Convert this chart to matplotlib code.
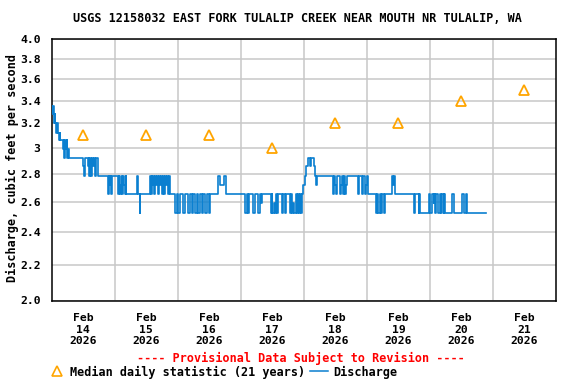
import datetime as dt
import matplotlib
matplotlib.use("Agg")
import matplotlib.pyplot as plt
import matplotlib.dates as mdates
from matplotlib.lines import Line2D
from matplotlib.ticker import FixedLocator, NullLocator, NullFormatter

# ---------------- data ----------------
title = "USGS 12158032 EAST FORK TULALIP CREEK NEAR MOUTH NR TULALIP, WA"
ylabel = "Discharge, cubic feet per second"
start_date = dt.datetime(2026, 2, 14)

# median daily statistic (21 years), one per day at noon
median_days = [14, 15, 16, 17, 18, 19, 20, 21]
median_values = [3.1, 3.1, 3.1, 3.0, 3.2, 3.2, 3.4, 3.5]

# discharge, step changes: hours since Feb 14 00:00 and new value (cfs)
q_hours = [
    0.0, 0.3, 0.5, 0.7, 0.95, 1.15, 1.3, 1.8, 2.1, 2.3, 2.8, 3.2, 3.35, 4.3, 4.6,
    4.7, 4.95, 5.2, 5.45, 5.7, 5.95, 6.2, 6.5, 12.0, 12.3, 12.55, 13.8, 14.1, 14.3,
    14.6, 14.85, 15.1, 15.35, 15.75, 16.0, 16.5, 16.75, 17.75, 21.45, 21.7, 22.1,
    22.3, 22.7, 23.0, 25.25, 25.5, 25.75, 26.0, 26.4, 26.8, 27.15, 27.55, 27.8,
    28.2, 28.4, 32.5, 33.0, 33.5, 33.75, 37.45, 37.7, 38.1, 38.35, 38.6, 39.0,
    39.35, 39.75, 40.1, 40.5, 40.9, 41.25, 41.65, 42.0, 42.4, 42.8, 43.15, 43.55,
    43.9, 44.3, 44.7, 45.05, 47.0, 47.6, 48.2, 48.9, 50.1, 50.8, 52.0, 52.5, 52.7,
    53.3, 53.9, 54.6, 55.2, 55.8, 56.5, 57.1, 57.5, 58.4, 59.0, 59.7, 60.1, 63.4,
    64.0, 65.6, 66.4, 73.6, 74.3, 74.9, 75.2, 76.8, 77.4, 78.7, 79.3, 79.7, 80.1,
    83.4, 83.8, 84.0, 84.6, 84.9, 85.4, 85.7, 86.3, 87.6, 88.0, 88.9, 89.3, 90.8,
    91.2, 91.6, 92.0, 92.4, 92.9, 93.3, 93.8, 94.2, 94.7, 95.0, 95.4, 95.8, 96.4,
    97.0, 97.4, 98.4, 98.7, 99.9, 100.3, 100.7, 101.1, 107.2, 107.6, 107.9, 108.3,
    108.7, 109.9, 110.3, 110.6, 110.9, 111.3, 111.6, 112.0, 112.4, 116.7, 117.1,
    118.0, 118.4, 119.3, 119.7, 120.1, 120.6, 123.5, 123.9, 124.3, 125.0, 125.4,
    125.8, 126.4, 126.8, 129.6, 129.9, 130.2, 130.6, 137.8, 138.4, 139.7, 140.0,
    140.4, 143.5, 144.1, 144.8, 145.4, 145.6, 146.0, 146.3, 146.9, 147.9, 148.3,
    148.6, 149.2, 149.5, 149.8, 152.4, 153.0, 156.2, 156.8, 157.9, 158.3, 165.5,
]
q_values = [
    3.35, 3.28, 3.35, 3.28, 3.20, 3.28, 3.20, 3.12, 3.20, 3.12, 3.06, 3.12, 3.06, 2.99, 3.06,
    2.92, 2.99, 3.06, 2.99, 3.06, 2.92, 2.99, 2.92, 2.86, 2.78, 2.92, 2.86, 2.92, 2.78,
    2.92, 2.86, 2.78, 2.92, 2.86, 2.92, 2.78, 2.92, 2.78, 2.65, 2.78, 2.72,
    2.78, 2.65, 2.78, 2.65, 2.78, 2.72, 2.65, 2.78, 2.65, 2.78, 2.72, 2.65,
    2.78, 2.65, 2.78, 2.65, 2.52, 2.65, 2.78, 2.65, 2.78, 2.72, 2.78, 2.65,
    2.78, 2.72, 2.78, 2.65, 2.78, 2.72, 2.78, 2.65, 2.78, 2.65, 2.78, 2.72,
    2.78, 2.65, 2.78, 2.65, 2.52, 2.65, 2.52, 2.65, 2.52, 2.65, 2.52, 2.59, 2.65,
    2.52, 2.65, 2.52, 2.65, 2.52, 2.65, 2.52, 2.65, 2.52, 2.65, 2.52, 2.65, 2.78,
    2.72, 2.78, 2.65, 2.52, 2.65, 2.52, 2.65, 2.52, 2.65, 2.52, 2.65, 2.59, 2.65,
    2.52, 2.65, 2.52, 2.59, 2.52, 2.65, 2.52, 2.65, 2.52, 2.65, 2.52, 2.65, 2.52,
    2.65, 2.52, 2.59, 2.52, 2.65, 2.52, 2.65, 2.52, 2.65, 2.52, 2.65, 2.72, 2.78,
    2.86, 2.92, 2.86, 2.92, 2.86, 2.78, 2.72, 2.78, 2.65, 2.78, 2.72, 2.65,
    2.78, 2.65, 2.72, 2.78, 2.65, 2.78, 2.65, 2.72, 2.78, 2.65, 2.78,
    2.65, 2.78, 2.65, 2.72, 2.78, 2.65, 2.52, 2.65, 2.52, 2.65, 2.52,
    2.65, 2.52, 2.65, 2.78, 2.72, 2.78, 2.65, 2.52, 2.65, 2.52, 2.65,
    2.52, 2.65, 2.52, 2.65, 2.59, 2.65, 2.52, 2.65, 2.52, 2.65, 2.52,
    2.65, 2.52, 2.65, 2.52, 2.65, 2.52, 2.65, 2.52, 2.65, 2.52, 2.52,
]

y_ticks = [2.0, 2.2, 2.4, 2.6, 2.8, 3.0, 3.2, 3.4, 3.6, 3.8, 4.0]
y_tick_labels = ["2.0", "2.2", "2.4", "2.6", "2.8", "3", "3.2", "3.4", "3.6", "3.8", "4.0"]
x_tick_days = [14, 15, 16, 17, 18, 19, 20, 21]
x_tick_labels = ["Feb\n%d\n2026" % d for d in x_tick_days]

# ---------------- style ----------------
FONT = "DejaVu Sans Mono"
plt.rcParams["font.family"] = [FONT, "DejaVu Sans"]
plt.rcParams["font.weight"] = "bold"
line_color = "#0a7fd0"
tri_color = "#FFA500"
grid_color = "#c8c8c8"

fig = plt.figure(figsize=(5.76, 3.84), dpi=100)
ax = fig.add_axes([51.7 / 576, 1 - 300.5 / 384, (556 - 51.7) / 576, (300.5 - 39.3) / 384])

q_times = [start_date + dt.timedelta(hours=h) for h in q_hours]
ax.step(q_times, q_values, where="post", color=line_color, lw=1.2, zorder=3)

m_times = [dt.datetime(2026, 2, d, 12) for d in median_days]
ax.plot(m_times, median_values, linestyle="none", marker="^", markersize=7.5,
        markerfacecolor="none", markeredgecolor=tri_color, markeredgewidth=1.3, zorder=4)

ax.set_yscale("log")
ax.set_ylim(2.0, 4.0)
ax.yaxis.set_major_locator(FixedLocator(y_ticks))
ax.set_yticklabels(y_tick_labels)
ax.yaxis.set_minor_locator(NullLocator())
ax.yaxis.set_minor_formatter(NullFormatter())

ax.set_xlim(start_date, dt.datetime(2026, 2, 22))
ax.set_xticks([mdates.date2num(dt.datetime(2026, 2, d, 12)) for d in x_tick_days])
ax.set_xticklabels(x_tick_labels)
ax.set_xticks([mdates.date2num(dt.datetime(2026, 2, d)) for d in range(15, 22)], minor=True)

ax.grid(False)
ax.grid(True, which="minor", axis="x", color=grid_color, lw=1.1)
ax.grid(True, which="major", axis="y", color=grid_color, lw=1.1)
ax.set_axisbelow(True)

ax.tick_params(axis="both", which="both", length=0)
ax.tick_params(axis="y", pad=8, labelsize=8.2)
ax.tick_params(axis="x", pad=9, labelsize=8.2)
for lab in ax.get_xticklabels() + ax.get_yticklabels():
    lab.set_fontweight("bold")
for sp in ax.spines.values():
    sp.set_linewidth(1.1)
    sp.set_color("black")

fig.text(297 / 576, 1 - 19 / 384, title, ha="center", va="center", fontsize=8.5, fontweight="bold")
fig.text(12 / 576, 1 - 168 / 384, ylabel, ha="center", va="center", rotation=90,
         fontsize=8.5, fontweight="bold")
fig.text(301 / 576, 1 - 358 / 384, "---- Provisional Data Subject to Revision ----",
         ha="center", va="center", fontsize=8.5, fontweight="bold", color="red")

fig.add_artist(Line2D([57 / 576], [1 - 371 / 384], transform=fig.transFigure, marker="^",
                      markersize=7, markerfacecolor="none", markeredgecolor=tri_color,
                      markeredgewidth=1.2, linestyle="none"))
fig.text(70 / 576, 1 - 372 / 384, "Median daily statistic (21 years)", ha="left", va="center",
         fontsize=8.5, fontweight="bold")
fig.add_artist(Line2D([310 / 576, 328 / 576], [1 - 371 / 384, 1 - 371 / 384],
                      transform=fig.transFigure, color=line_color, lw=1.1))
fig.text(333 / 576, 1 - 372 / 384, "Discharge", ha="left", va="center",
         fontsize=8.5, fontweight="bold")

fig.savefig("out.png", dpi=100)
